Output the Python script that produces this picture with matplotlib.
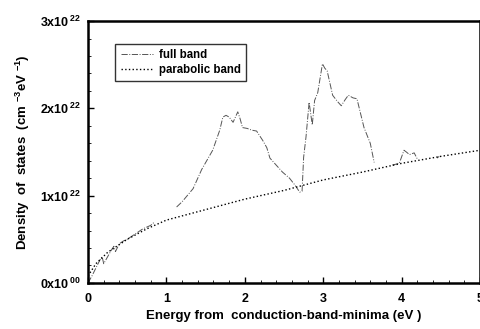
import numpy as np
import matplotlib
matplotlib.use('Agg')
import matplotlib.pyplot as plt
from matplotlib.ticker import MultipleLocator, FixedLocator

# energies (eV) and DOS (units of 1e22 cm^-3 eV^-1)
full_E = [0.0, 0.05, 0.1, 0.15, 0.18, 0.2, 0.25, 0.3, 0.33, 0.35, 0.4, 0.45, 0.5,
          0.6, 0.7, 0.8, 0.85, np.nan,
          1.13, 1.2, 1.34, 1.45, 1.59, 1.68, 1.72, 1.76, 1.80, 1.85, 1.88, 1.91,
          1.94, 1.97, 2.03, 2.09, 2.15, 2.23, 2.28, 2.32, 2.40, 2.48, 2.57, 2.64,
          2.70, 2.73, 2.75, 2.78, 2.82, 2.86, 2.89, 2.93, 2.99, 3.02, 3.05, 3.12,
          3.18, 3.23, 3.28, 3.32, 3.38, 3.43, 3.52, 3.60, 3.65, np.nan,
          3.88, 3.97, 4.03, 4.06, 4.10, 4.16, 4.20, np.nan,
          4.45, 4.48]
full_D = [0.0, 0.08, 0.17, 0.26, 0.3, 0.22, 0.3, 0.38, 0.42, 0.36, 0.45, 0.48, 0.5,
          0.56, 0.62, 0.66, 0.7, np.nan,
          0.87, 0.93, 1.08, 1.3, 1.52, 1.75, 1.9, 1.92, 1.9, 1.84, 1.9, 1.96,
          1.88, 1.78, 1.77, 1.75, 1.74, 1.63, 1.55, 1.43, 1.35, 1.27, 1.2, 1.12,
          1.04, 1.05, 1.44, 1.67, 2.07, 1.81, 2.09, 2.18, 2.51, 2.46, 2.43, 2.15,
          2.08, 2.03, 2.1, 2.15, 2.12, 2.11, 1.78, 1.6, 1.38, np.nan,
          1.35, 1.37, 1.52, 1.5, 1.47, 1.49, 1.42, np.nan,
          1.43, 1.45]

para_E = [0.0, 0.1, 0.25, 0.5, 0.75, 1.0, 1.5, 2.0, 2.5, 3.0, 3.5, 4.0, 4.5, 5.0]
para_D = [0.08, 0.22, 0.35, 0.5, 0.62, 0.72, 0.84, 0.96, 1.06, 1.18, 1.27, 1.37, 1.45, 1.52]

y_ticks = [0, 1, 2, 3]
y_labels = [r'$\mathbf{0x10}^{\,00}$', r'$\mathbf{1x10}^{\,22}$',
            r'$\mathbf{2x10}^{\,22}$', r'$\mathbf{3x10}^{\,22}$']

plt.rcParams['font.family'] = ['Liberation Sans', 'DejaVu Sans']
plt.rcParams['font.weight'] = 'bold'
plt.rcParams['mathtext.fontset'] = 'custom'
plt.rcParams['mathtext.rm'] = 'Liberation Sans:bold'
plt.rcParams['mathtext.bf'] = 'Liberation Sans:bold'

fig = plt.figure(figsize=(4.81, 3.29), dpi=100)
ax = fig.add_axes([0.183, 0.140, 0.815, 0.796])

ax.plot(full_E, full_D, color='#555555', lw=0.7, ls='-.', label='full band')
ax.plot(para_E, para_D, color='black', lw=1.0, ls=':', label='parabolic band')

ax.set_xlim(0, 5)
ax.set_ylim(0, 3)
ax.xaxis.set_major_locator(MultipleLocator(1))
ax.xaxis.set_minor_locator(MultipleLocator(0.2))
ax.yaxis.set_major_locator(FixedLocator(y_ticks))
ax.yaxis.set_minor_locator(MultipleLocator(0.2))
ax.set_yticklabels(y_labels)
ax.tick_params(which='both', direction='in', labelsize=9)
ax.tick_params(which='major', length=4, width=1)
ax.tick_params(which='minor', length=2, width=0.6)
ax.tick_params(axis='x', pad=7)
ax.tick_params(axis='y', pad=5)
for s in ax.spines.values():
    s.set_linewidth(1.8)

ax.set_xlabel('Energy from  conduction-band-minima (eV )', fontsize=9.5, fontweight='bold', labelpad=4)
ax.set_ylabel(r'Density  of  states  (cm $^{-3}$eV $^{-1}$)', fontsize=9.5, fontweight='bold', labelpad=6)

leg = ax.legend(loc='upper left', bbox_to_anchor=(0.055, 0.935), fontsize=8.3,
                frameon=True, fancybox=False, edgecolor='black', handlelength=2.8,
                borderpad=0.45, labelspacing=0.25, handletextpad=0.5)
leg.get_frame().set_linewidth(1.0)

fig.savefig('out.png', dpi=100)
